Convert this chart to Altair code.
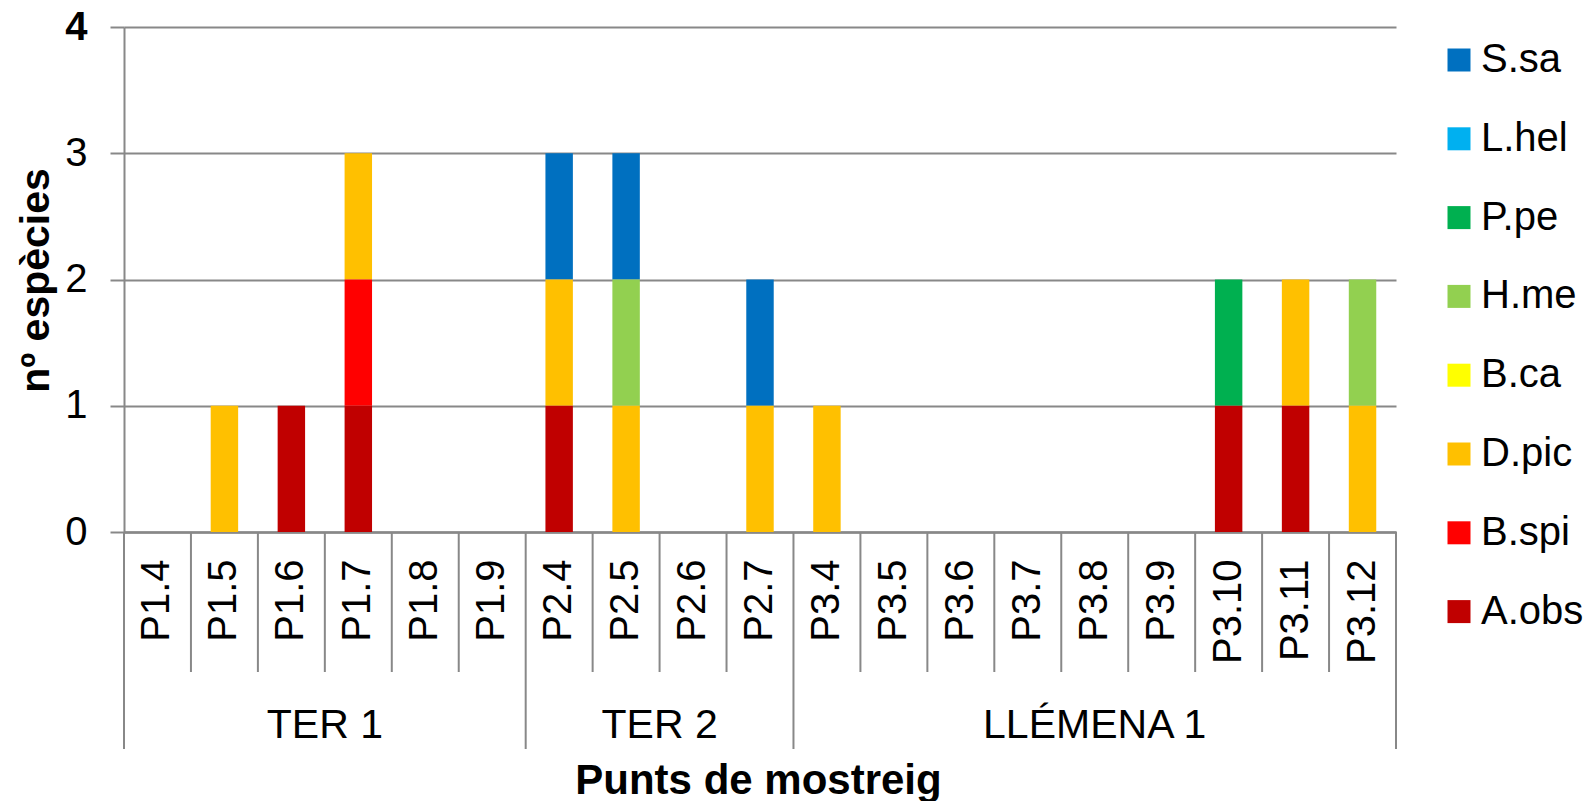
import altair as alt
import pandas as pd

# Sampling points along the x axis, grouped by river stretch
points = ["P1.4", "P1.5", "P1.6", "P1.7", "P1.8", "P1.9",
          "P2.4", "P2.5", "P2.6", "P2.7",
          "P3.4", "P3.5", "P3.6", "P3.7", "P3.8", "P3.9", "P3.10", "P3.11", "P3.12"]
group_names = ["TER 1", "TER 2", "LLÉMENA 1"]
group_sizes = [6, 4, 9]

# Species in legend order (top to bottom); stacking goes the other way
species = ["S.sa", "L.hel", "P.pe", "H.me", "B.ca", "D.pic", "B.spi", "A.obs"]
colors = ["#0070C0", "#00B0F0", "#00B050", "#92D050", "#FFFF00", "#FFC000", "#FF0000", "#C00000"]

# Number of species recorded at each sampling point (one list per species)
s_sa  = [0, 0, 0, 0, 0, 0, 1, 1, 0, 1, 0, 0, 0, 0, 0, 0, 0, 0, 0]
l_hel = [0, 0, 0, 0, 0, 0, 0, 0, 0, 0, 0, 0, 0, 0, 0, 0, 0, 0, 0]
p_pe  = [0, 0, 0, 0, 0, 0, 0, 0, 0, 0, 0, 0, 0, 0, 0, 0, 1, 0, 0]
h_me  = [0, 0, 0, 0, 0, 0, 0, 1, 0, 0, 0, 0, 0, 0, 0, 0, 0, 0, 1]
b_ca  = [0, 0, 0, 0, 0, 0, 0, 0, 0, 0, 0, 0, 0, 0, 0, 0, 0, 0, 0]
d_pic = [0, 1, 0, 1, 0, 0, 1, 1, 0, 1, 1, 0, 0, 0, 0, 0, 0, 1, 1]
b_spi = [0, 0, 0, 1, 0, 0, 0, 0, 0, 0, 0, 0, 0, 0, 0, 0, 0, 0, 0]
a_obs = [0, 0, 1, 1, 0, 0, 1, 0, 0, 0, 0, 0, 0, 0, 0, 0, 1, 1, 0]
series = [s_sa, l_hel, p_pe, h_me, b_ca, d_pic, b_spi, a_obs]

FONT = "Liberation Sans"
GRAY = "#888888"
W, H = 1272, 505

rows = []
for k, (sp, vals) in enumerate(zip(species, series)):
    for p, v in zip(points, vals):
        if v:
            rows.append({"punt": p, "especie": sp, "n": v, "ordre": len(species) - 1 - k})
bars_df = pd.DataFrame(rows)

# Group boundaries and label anchors
starts, idx = [], 0
for n in group_sizes:
    starts.append(idx)
    idx += n
group_first = [points[s] for s in starts]
inner_df = pd.DataFrame({"punt": [p for i, p in enumerate(points) if i not in starts]})
group_df = pd.DataFrame({"punt": group_first})
end_df = pd.DataFrame({"punt": [points[-1]]})

even_rows, odd_rows = [], []
for name, s, n in zip(group_names, starts, group_sizes):
    anchor = points[s + n // 2]
    (even_rows if n % 2 == 0 else odd_rows).append({"punt": anchor, "grup": name})
even_df = pd.DataFrame(even_rows)
odd_df = pd.DataFrame(odd_rows)

xscale = alt.Scale(domain=points, paddingInner=0, paddingOuter=0)

x_axis = alt.Axis(
    title="Punts de mostreig", labelAngle=270, labelAlign="right", labelBaseline="middle",
    labelFont=FONT, labelFontSize=40, labelColor="black", labelPadding=27, labelOverlap=False,
    ticks=False, grid=False, domainColor=GRAY, domainWidth=2.5,
    titleFont=FONT, titleFontSize=42, titleFontWeight="bold", titleColor="black",
    titleX=634, titleY=261, titleBaseline="alphabetic", titleAlign="center",
)
y_axis = alt.Axis(
    values=[0, 1, 2, 3, 4], title="nº espècies",
    grid=True, gridColor=GRAY, gridWidth=2,
    ticks=True, tickColor=GRAY, tickWidth=2, tickSize=14,
    domainColor=GRAY, domainWidth=2,
    labelFont=FONT, labelFontSize=40, labelColor="black", labelPadding=23,
    labelFontWeight=alt.condition("datum.value == 4", alt.value("bold"), alt.value("normal")),
    titleFont=FONT, titleFontSize=41, titleFontWeight="bold", titleColor="black",
    titleX=-76, titleY=253, titleBaseline="alphabetic", titleAlign="center", titleAngle=270,
)

bars = alt.Chart(bars_df).mark_bar(width=alt.RelativeBandSize(0.41)).encode(
    x=alt.X("punt:N", scale=xscale, axis=x_axis, sort=points),
    y=alt.Y("n:Q", stack="zero", scale=alt.Scale(domain=[0, 4]), axis=y_axis),
    color=alt.Color(
        "especie:N",
        scale=alt.Scale(domain=species, range=colors),
        legend=alt.Legend(
            title=None, orient="none", legendX=1315, legendY=13, padding=0,
            symbolType="square", symbolSize=529, symbolStrokeWidth=0,
            labelFont=FONT, labelFontSize=40, labelColor="black", labelOffset=2,
            rowPadding=38.8, labelLimit=300,
        ),
    ),
    order=alt.Order("ordre:Q", sort="ascending"),
)


def rule_layer(df, band_pos, length):
    return alt.Chart(df).mark_rule(color=GRAY, strokeWidth=2).encode(
        x=alt.X("punt:N", bandPosition=band_pos, scale=xscale, axis=None),
        y=alt.value(H),
        y2=alt.value(H + length),
    )


def label_layer(df, band_pos):
    return alt.Chart(df).mark_text(
        font=FONT, fontSize=41, color="black", baseline="alphabetic", align="center"
    ).encode(
        x=alt.X("punt:N", bandPosition=band_pos, scale=xscale, axis=None),
        y=alt.value(711),
        text="grup:N",
    )


chart = alt.layer(
    bars,
    rule_layer(inner_df, 0, 140),
    rule_layer(group_df, 0, 217),
    rule_layer(end_df, 1, 217),
    label_layer(even_df, 0),
    label_layer(odd_df, 0.5),
).resolve_axis(x="independent").properties(
    width=W, height=H,
    autosize=alt.AutoSizeParams(type="none"),
    padding={"left": 124, "top": 27, "right": 200, "bottom": 269},
    background="white",
).configure_view(stroke=None)

chart.save("out.html", embed_options={"renderer": "svg", "actions": False})
